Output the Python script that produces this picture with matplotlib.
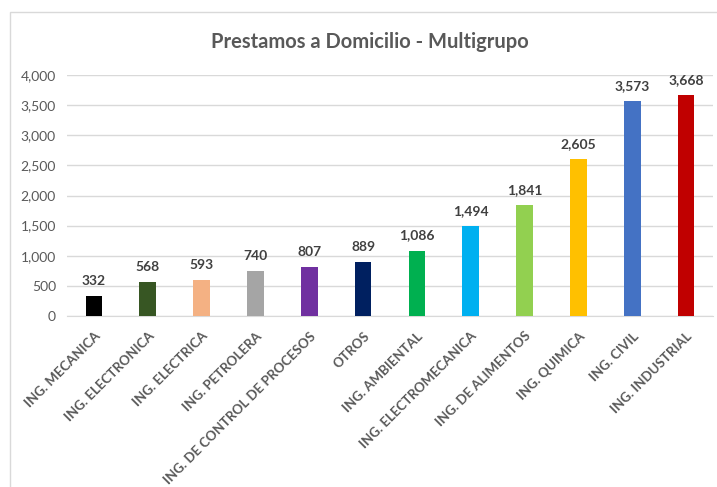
import matplotlib.pyplot as plt
from matplotlib.patches import Rectangle

plt.rcParams["font.family"] = ["Lato", "DejaVu Sans"]

categories = [
    "ING. MECANICA", "ING. ELECTRONICA", "ING. ELECTRICA", "ING. PETROLERA",
    "ING. DE CONTROL DE PROCESOS", "OTROS", "ING. AMBIENTAL",
    "ING. ELECTROMECANICA", "ING. DE ALIMENTOS", "ING. QUIMICA",
    "ING. CIVIL", "ING. INDUSTRIAL",
]
values = [332, 568, 593, 740, 807, 889, 1086, 1494, 1841, 2605, 3573, 3668]
colors = [
    "#000000", "#375623", "#F4B183", "#A5A5A5", "#7030A0", "#002060",
    "#00B050", "#00B0F0", "#92D050", "#FFC000", "#4472C4", "#C00000",
]
yticks = [0, 500, 1000, 1500, 2000, 2500, 3000, 3500, 4000]

fig = plt.figure(figsize=(7.17, 4.87), dpi=100)
fig.patches.append(Rectangle((10 / 717, -0.1), 1.0, 1 - 12 / 487 + 0.1,
                             transform=fig.transFigure, fill=False,
                             edgecolor="#D9D9D9", lw=1.0))
ax = fig.add_axes([67 / 717, 171 / 487, 646 / 717, 241 / 487])

x = range(len(categories))
bars = ax.bar(x, values, width=0.31, color=colors, zorder=3)
for xi, v in zip(x, values):
    ax.text(xi, v + 150, f"{v:,}", ha="center", va="bottom",
            fontsize=10, fontweight="bold", color="#404040")

ax.set_xlim(-0.5, len(categories) - 0.5)
ax.set_ylim(0, 4000)
ax.set_yticks(yticks)
ax.set_yticklabels([f"{t:,}" for t in yticks], fontsize=10, color="#595959")
ax.yaxis.grid(True, color="#D9D9D9", lw=1.0, zorder=0)
ax.set_xticks(list(x))
ax.set_xticklabels(categories, rotation=45, ha="right", va="top",
                   rotation_mode="anchor", fontsize=9.5, fontweight="bold",
                   color="#595959")
ax.tick_params(axis="both", length=0)
ax.tick_params(axis="x", pad=10)
ax.tick_params(axis="y", pad=8)
for s in ["top", "right", "left"]:
    ax.spines[s].set_visible(False)
ax.spines["bottom"].set_color("#D9D9D9")

fig.text(370 / 717, 1 - 42 / 487, "Prestamos a Domicilio - Multigrupo",
         ha="center", va="center", fontsize=14.5, fontweight="bold",
         color="#595959")

fig.savefig("out.png", dpi=100)
